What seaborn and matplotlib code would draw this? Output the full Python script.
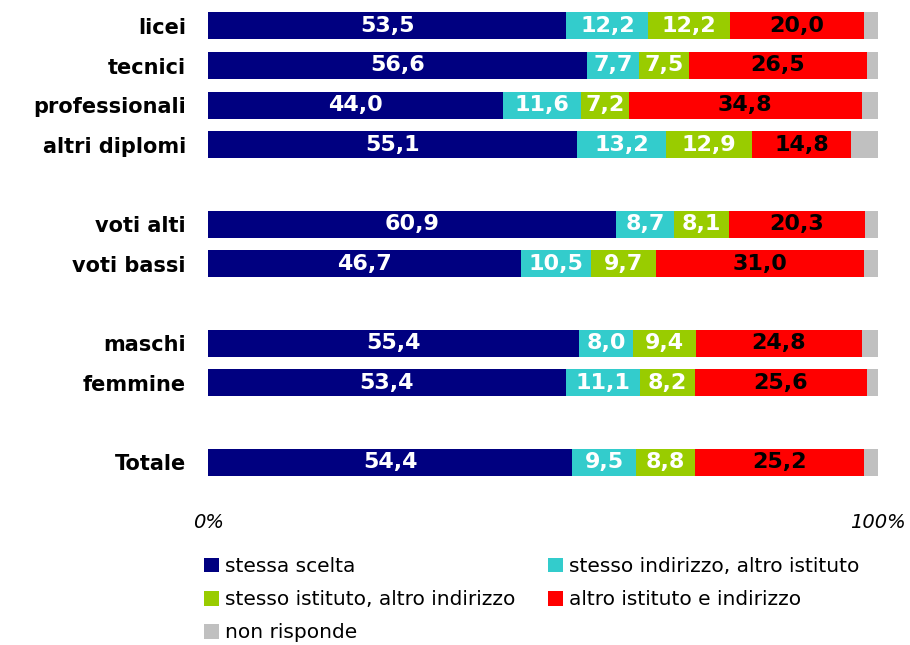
import numpy as np
import pandas as pd
import matplotlib
matplotlib.use("Agg")
import matplotlib.pyplot as plt
from matplotlib.patches import Patch
import seaborn as sns

# ---------------------------------------------------------------
# DATA
# ---------------------------------------------------------------
categories = ["licei", "tecnici", "professionali", "altri diplomi",
              "voti alti", "voti bassi", "maschi", "femmine", "Totale"]
# row slots (gaps between groups)
row_pos = [0, 1, 2, 3, 5, 6, 8, 9, 11]

stessa_scelta = [53.5, 56.6, 44.0, 55.1, 60.9, 46.7, 55.4, 53.4, 54.4]
stesso_indirizzo = [12.2, 7.7, 11.6, 13.2, 8.7, 10.5, 8.0, 11.1, 9.5]
stesso_istituto = [12.2, 7.5, 7.2, 12.9, 8.1, 9.7, 9.4, 8.2, 8.8]
altro_istituto = [20.0, 26.5, 34.8, 14.8, 20.3, 31.0, 24.8, 25.6, 25.2]
non_risponde = [2.1, 1.7, 2.4, 4.0, 2.0, 2.1, 2.4, 1.7, 2.1]

series_names = ["stessa scelta", "stesso indirizzo, altro istituto",
                "stesso istituto, altro indirizzo", "altro istituto e indirizzo",
                "non risponde"]
series_vals = [stessa_scelta, stesso_indirizzo, stesso_istituto,
               altro_istituto, non_risponde]
colors = ["#000080", "#33CCCC", "#99CC00", "#FF0000", "#C0C0C0"]
label_colors = ["white", "white", "white", "black", None]

# ---------------------------------------------------------------
# PLOT
# ---------------------------------------------------------------
sns.set_style("white")
plt.rcParams["font.family"] = ["DejaVu Sans"]
plt.rcParams["text.color"] = "black"
plt.rcParams["xtick.color"] = "black"
plt.rcParams["ytick.color"] = "black"

fig = plt.figure(figsize=(9.1, 6.45), dpi=100)
ax = fig.add_axes([208 / 910, 1 - 482 / 645, 670 / 910, 476 / 645])

vals = np.array(series_vals)
ends = np.cumsum(vals, axis=0)
starts = ends - vals

# draw cumulative bars from the longest to the shortest so they stack
for i in range(len(series_names) - 1, -1, -1):
    df = pd.DataFrame({"pos": row_pos, "end": ends[i]})
    sns.barplot(data=df, x="end", y="pos", orient="h", native_scale=True,
                color=colors[i], width=0.68, saturation=1, ax=ax,
                edgecolor="none", linewidth=0)

# value labels
for i in range(4):
    for j, p in enumerate(row_pos):
        mid = starts[i][j] + vals[i][j] / 2
        ax.text(mid, p, f"{vals[i][j]:.1f}".replace(".", ","),
                ha="center", va="center", color=label_colors[i],
                fontsize=16, fontweight="bold")

ax.set_xlim(0, 100)
ax.set_ylim(11.5, -0.5)
ax.set_yticks(row_pos)
ax.set_yticklabels(categories, fontsize=15, fontweight="bold")
ax.set_xticks([0, 100])
ax.set_xticklabels(["0%", "100%"], fontsize=14, fontstyle="italic")
ax.tick_params(axis="y", length=0, pad=16)
ax.tick_params(axis="x", length=0, pad=22)
ax.set_xlabel("")
ax.set_ylabel("")
sns.despine(ax=ax, left=True, bottom=True)

handles = [Patch(facecolor=c, edgecolor="none") for c in colors]
order = [0, 2, 4, 1, 3]
fig.legend([handles[k] for k in order], [series_names[k] for k in order],
           loc="upper left", bbox_to_anchor=(196 / 910, 1 - 549 / 645),
           ncol=2, frameon=False, fontsize=14.5, handlelength=0.75,
           handleheight=0.75, handletextpad=0.3, columnspacing=1.6,
           labelspacing=0.7, borderaxespad=0)

fig.savefig("out.png", dpi=100)
